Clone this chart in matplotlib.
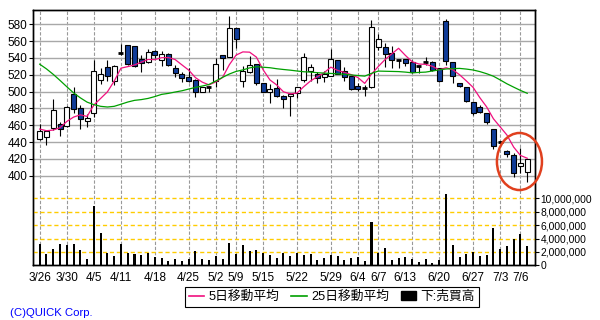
import numpy as np
import matplotlib
matplotlib.use('Agg')
import matplotlib.pyplot as plt
from matplotlib.patches import Rectangle, Ellipse, Patch
from matplotlib.lines import Line2D

plt.rcParams['font.family'] = ['Liberation Sans', 'Noto Sans CJK JP']

# daily prices, 3/26 .. 7/9 (73 trading days)
opens = [443.5, 446.5, 457, 462, 459, 497, 480, 465, 474, 513.5,
         529, 513, 545.5, 555.5, 554, 538.5, 535, 548, 537.5, 544.7,
         527.6, 520.5, 517.2, 513.8, 499.2, 506, 513, 543.5, 541.5, 575.5,
         513, 522.8, 532.5, 510, 500, 504, 495, 495, 498, 514,
         524, 520.5, 517, 519, 537, 524, 518.5, 506.5, 504, 505,
         552.5, 552.5, 546, 537, 538.5, 535.6, 531, 535.6, 535.6, 527.7,
         584, 534.9, 509.9, 505.1, 487.3, 481.4, 474.3, 455.6, 440.6, 429.9,
         424.8, 411.7, 405]
highs = [461, 454.5, 491, 464, 483, 505, 484, 473.5, 537, 528,
         538, 532, 557, 556, 554.5, 543, 550.5, 550, 548.7, 545.5,
         532, 523.7, 528, 514.5, 505.5, 507, 540, 544, 590, 576,
         530, 542.5, 533, 510.5, 509, 514.5, 495.5, 498, 505.5, 546,
         533, 523, 525, 550.5, 537.5, 529, 519, 510, 508, 585,
         568, 558, 554, 538, 539, 537, 531, 541.6, 536.5, 528,
         586.5, 535.5, 510.5, 506, 488, 484.5, 475, 456, 441.5, 430.5,
         427, 433, 420]
lows = [443, 436, 454, 447.5, 458, 474, 456, 457.5, 470, 509,
        513, 508, 543.5, 532, 529, 523.5, 533.5, 540.5, 530.8, 531,
        517.7, 511.8, 511.8, 494, 499, 500, 506, 525.7, 541, 551.5,
        505, 522.5, 507.5, 499.5, 486, 493, 480, 471.5, 492, 512,
        513, 510, 512, 518.5, 520.5, 513, 502, 501, 495, 504.5,
        550, 529.7, 528, 527.5, 530.5, 521.8, 521.8, 531.7, 524, 511,
        531.5, 510, 505.5, 487.5, 472, 474.5, 461, 431.5, 439.5, 422,
        398, 403, 392]
closes = [453, 453.7, 478, 456, 482, 479, 467, 468.5, 524, 521,
          518, 531, 545.5, 533, 531, 534.5, 547.5, 544, 544.7, 532,
          522.5, 515.8, 512.8, 500, 505.5, 506, 533, 539.5, 575.5, 563,
          525, 531.5, 510, 500, 503, 495, 491, 497.5, 505, 541,
          529, 516, 521, 538.5, 521.5, 517, 503, 503.5, 504, 576.5,
          562, 544.5, 537.5, 537, 534.5, 523.8, 531, 535.6, 525.7, 513.1,
          536.8, 518.6, 506.3, 489.3, 474.3, 475.4, 464.4, 435.8, 440.6, 426,
          403, 414.9, 419.6]
volume = [3250000, 1750000, 2450000, 3250000, 3100000, 3250000, 2300000, 950000, 8900000, 4750000,
          1900000, 1400000, 3250000, 1900000, 1750000, 1550000, 1900000, 1250000, 1100000, 650000,
          950000, 650000, 950000, 2150000, 950000, 800000, 1400000, 950000, 3400000, 1750000,
          3050000, 2150000, 2300000, 1900000, 1550000, 1100000, 1900000, 1400000, 1900000, 1550000,
          1700000, 800000, 1100000, 1550000, 1400000, 800000, 1100000, 1300000, 650000, 6400000,
          1900000, 2600000, 800000, 1100000, 1300000, 950000, 500000, 950000, 350000, 800000,
          10700000, 3050000, 1250000, 1700000, 2000000, 1400000, 1550000, 5600000, 2450000, 2900000,
          3950000, 4700000, 2900000]
ma5 = [455.5, 453.5, 454.3, 457.1, 464.5, 469.7, 472.4, 470.5, 484.1, 491.9,
       499.7, 512.5, 527.9, 529.7, 531.7, 535.0, 538.3, 538.0, 540.3, 540.5,
       538.1, 531.8, 525.6, 516.6, 511.3, 508.0, 511.5, 516.8, 531.9, 543.4,
       547.2, 546.9, 541.0, 525.9, 513.9, 507.9, 499.8, 497.3, 498.3, 505.9,
       512.7, 517.7, 522.4, 529.1, 525.2, 522.8, 520.2, 516.7, 509.8, 520.8,
       529.8, 538.1, 544.9, 551.5, 543.1, 535.5, 532.8, 532.4, 530.1, 525.8,
       528.4, 526.0, 520.1, 512.8, 505.1, 492.8, 481.9, 467.8, 458.1, 448.4,
       434.0, 424.1, 420.8]
ma25 = [532.6, 527.0, 520.5, 513.3, 505.8, 498.5, 492.6, 487.5, 484.5, 482.5,
        481.7, 482.5, 485.0, 487.6, 489.6, 490.5, 491.9, 494.1, 496.7, 497.9,
        499.5, 501.0, 503.0, 505.0, 506.6, 508.5, 512.6, 516.9, 520.9, 524.0,
        525.8, 528.2, 529.6, 529.0, 528.4, 527.2, 526.3, 525.5, 524.5, 523.6,
        523.2, 522.5, 522.0, 521.6, 521.1, 520.6, 519.8, 519.1, 518.4, 521.7,
        524.4, 524.2, 524.0, 523.8, 523.2, 522.3, 522.8, 523.2, 524.5, 525.9,
        526.9, 527.3, 527.6, 526.8, 525.7, 523.8, 521.3, 518.3, 513.9, 509.3,
        505.3, 501.4, 498.0]

tick_labels = ['3/26', '3/30', '4/5', '4/11', '4/18', '4/25', '5/2', '5/9', '5/15',
               '5/22', '5/29', '6/4', '6/7', '6/13', '6/20', '6/27', '7/3', '7/6']
tick_pos = [0, 4, 8, 12, 17, 22, 26, 29, 33, 38, 43, 47, 50, 54, 59, 64, 68, 71]
grid_pos = [0, 4, 8, 12, 17, 22, 26, 29, 33, 38, 43, 47, 50, 55, 59, 64, 68, 71]

price_ticks = list(range(400, 600, 20))
vol_ticks = [0, 2000000, 4000000, 6000000, 8000000, 10000000]

blue = '#103c98'
pink = '#f0107f'
green = '#00a000'

x = np.arange(len(closes))

fig = plt.figure(figsize=(6, 3.2), dpi=100)
ax = fig.add_axes([0.055, 0.1709, 0.8367, 0.7978])
ax2 = ax.twinx()

# grid
for gx in grid_pos:
    ax.axvline(gx, color='#999999', lw=0.8, dashes=(3, 1.6), zorder=0)
ax.set_yticks(price_ticks)
ax.yaxis.grid(True, color='#a8a8a8', lw=1.0)
ax.set_axisbelow(True)

# candles
for i in x:
    o, h, l, c = opens[i], highs[i], lows[i], closes[i]
    ax.vlines(i, l, h, color='black', lw=0.8, zorder=2)
    if abs(c - o) < 0.6:
        ax.hlines(c, i - 0.37, i + 0.37, color='black', lw=2, zorder=3)
    else:
        face = 'white' if c > o else blue
        ax.add_patch(Rectangle((i - 0.37, min(o, c)), 0.74, abs(c - o),
                               facecolor=face, edgecolor='black', lw=0.8, zorder=3))

ax.plot(x, ma5, color=pink, lw=0.9, zorder=4)
ax.plot(x, ma25, color=green, lw=0.9, zorder=4)

ax.set_xlim(-0.99, 73.15)
ax.set_ylim(293.5, 597.0)
ax.set_xticks(tick_pos)
ax.set_xticklabels(tick_labels)
ax.tick_params(axis='x', length=0, pad=5, labelsize=8.5)
ax.tick_params(axis='y', length=3, width=0.8, pad=1, labelsize=8.5)

# volume
for v in vol_ticks[1:]:
    ax2.axhline(v, color='#ffcc00', lw=1.0, dashes=(3, 2), zorder=1)
ax2.bar(x, volume, width=0.3, color='black', zorder=3)
ax2.set_ylim(0, 38.1e6)
ax2.set_yticks(vol_ticks)
ax2.set_yticklabels(['{:,}'.format(v) for v in vol_ticks])
ax2.tick_params(axis='y', length=3, width=0.8, pad=1, labelsize=7.4)

for a in (ax, ax2):
    for s in a.spines.values():
        s.set_color('black')
        s.set_linewidth(1.0)

# red circle around the last candles
circ = Ellipse((70.85, 416.9), 6.65, 67.8, fill=False, edgecolor='#e0401e',
               lw=1.8, clip_on=False, transform=ax.transData, zorder=10)
ax2.add_artist(circ)

handles = [Line2D([], [], color=pink, lw=1.2),
           Line2D([], [], color=green, lw=1.2),
           Patch(facecolor='black', edgecolor='black')]
leg = fig.legend(handles, ['5日移動平均', '25日移動平均', '下:売買高'],
                 loc='center', bbox_to_anchor=(332 / 600, 1 - 297 / 320), ncol=3,
                 fontsize=9.2, frameon=True, fancybox=False, edgecolor='black',
                 framealpha=1, handlelength=1.2, handletextpad=0.35,
                 columnspacing=0.9, borderpad=0.3, borderaxespad=0)
leg.get_frame().set_linewidth(0.8)

fig.text(10 / 600, 1 - 313 / 320, '(C)QUICK Corp.', color='#0000ff',
         fontsize=8.2, va='center', ha='left')

plt.savefig('out.png', dpi=100)
